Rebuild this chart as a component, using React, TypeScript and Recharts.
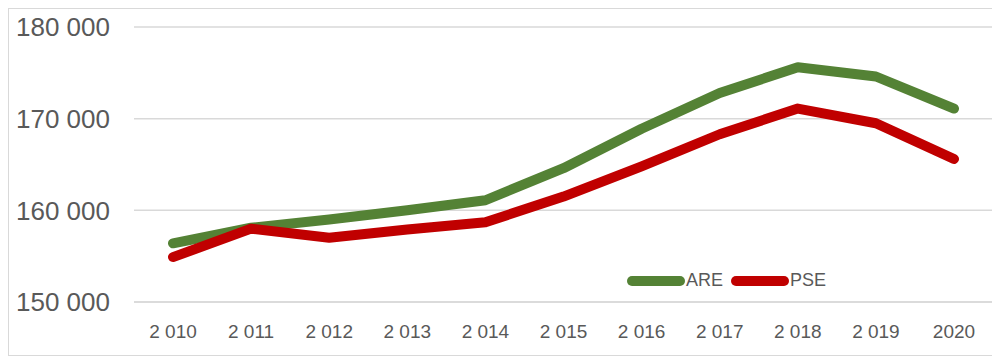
import React from 'react';
import { LineChart, Line, XAxis, YAxis, CartesianGrid } from 'recharts';

// values
const years = ['2 010', '2 011', '2 012', '2 013', '2 014', '2 015', '2 016', '2 017', '2 018', '2 019', '2020'];
const areValues = [156400, 158100, 159000, 160000, 161100, 164600, 168900, 172800, 175600, 174600, 171100];
const pseValues = [154900, 158000, 157000, 157900, 158700, 161500, 164800, 168300, 171100, 169500, 165600];
const yTicks = [150000, 160000, 170000, 180000];

const GREEN = '#548235';
const RED = '#C00000';
const TEXT = '#595959';
const FONT = '"Liberation Sans", Arial, sans-serif';

const data = years.map((year, i) => ({ year, ARE: areValues[i], PSE: pseValues[i] }));

const formatThousands = (v: number) => String(v).replace(/\B(?=(\d{3})+(?!\d))/g, ' ');

// legend drawn over the plot, like the original sits inside the plot area
const LegendOverlay = () => {
    const items = [
        { name: 'ARE', color: GREEN },
        { name: 'PSE', color: RED },
    ];
    return (
        <div style={{ position: 'absolute', left: 618, top: 261, display: 'flex', alignItems: 'center', gap: 8, fontFamily: FONT, fontSize: 18, color: TEXT }}>
            {items.map((it) => (
                <div key={it.name} style={{ display: 'flex', alignItems: 'center', gap: 1 }}>
                    <svg width="58" height="12" aria-hidden>
                        <line x1="5" y1="6" x2="53" y2="6" stroke={it.color} strokeWidth={10} strokeLinecap="round" />
                    </svg>
                    <span>{it.name}</span>
                </div>
            ))}
        </div>
    );
};

const App = () => {
    return (
        <div style={{ position: 'relative', width: 984, height: 346, border: '1px solid #d9d9d9', background: '#fff' }}>
            <LineChart width={984} height={346} data={data} margin={{ top: 18, right: 0, bottom: 0, left: 0 }}>
                <CartesianGrid vertical={false} stroke="#d9d9d9" strokeWidth={1.5} />
                <XAxis
                    dataKey="year"
                    axisLine={{ stroke: '#d9d9d9', strokeWidth: 1.5 }}
                    tickLine={false}
                    tickSize={0}
                    tickMargin={23}
                    height={53}
                    interval={0}
                    padding={{ left: 39, right: 39 }}
                    tick={{ fill: TEXT, fontSize: 19, fontFamily: FONT }}
                />
                <YAxis
                    domain={[150000, 180000]}
                    ticks={yTicks}
                    width={125}
                    axisLine={false}
                    tickLine={false}
                    tickSize={0}
                    tickMargin={24}
                    tickFormatter={formatThousands}
                    tick={{ fill: TEXT, fontSize: 26, fontFamily: FONT }}
                />
                <Line type="linear" dataKey="ARE" stroke={GREEN} strokeWidth={10} strokeLinecap="round" strokeLinejoin="round" dot={false} isAnimationActive={false} />
                <Line type="linear" dataKey="PSE" stroke={RED} strokeWidth={10} strokeLinecap="round" strokeLinejoin="round" dot={false} isAnimationActive={false} />
            </LineChart>
            <LegendOverlay />
        </div>
    );
};

export default App;
